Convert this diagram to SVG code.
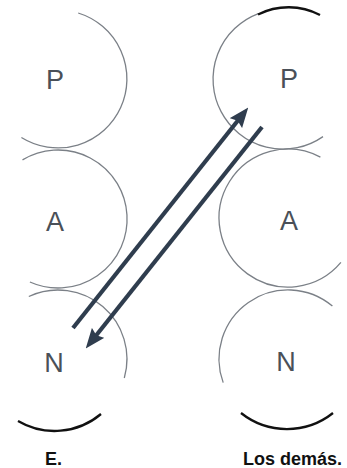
<svg xmlns="http://www.w3.org/2000/svg" width="347" height="468" viewBox="0 0 347 468">
<defs>
<style>
.c{fill:none;stroke:#7b8087;stroke-width:1.3}
.b{fill:none;stroke:#111;stroke-width:2.3}
.l{font-family:"Liberation Sans",Arial,sans-serif;font-size:27px;fill:#4a5058;text-anchor:middle}
.t{font-family:"Liberation Sans",Arial,sans-serif;font-size:18px;font-weight:bold;fill:#111}
.a{fill:none;stroke:#2f3d4e;stroke-width:4.2;marker-end:url(#ah)}
</style>
<marker id="ah" viewBox="0 0 20 16" refX="4" refY="8" markerWidth="20" markerHeight="16" markerUnits="userSpaceOnUse" orient="auto">
<path d="M0,0 L20,8 L0,16 L3,8 z" fill="#2f3d4e"/>
</marker>
</defs>
<rect width="347" height="468" fill="#fff"/>
<g id="E-P"><path class="c" d="M78.2,13 A69,69 0 1 1 21.4,137.5"/><text class="l" x="55" y="89">P</text></g>
<g id="E-A"><path class="c" d="M22.5,159.9 A69,69 0 1 1 29.9,282"/><text class="l" x="55" y="231">A</text></g>
<g id="E-N"><path class="c" d="M28.8,296.5 A69,69 0 0 1 124.3,378"/><text class="l" x="54" y="372">N</text></g>
<g id="E-base"><path class="b" d="M18,421 A72,72 0 0 0 101,414"/><text class="t" x="45" y="465">E.</text></g>
<g id="O-P"><path class="c" d="M258.4,13.6 A70,70 0 1 0 323,136.6"/><path class="b" d="M258,14.5 A68,68 0 0 1 320,15"/><text class="l" x="289" y="88">P</text></g>
<g id="O-A"><path class="c" d="M320.4,157.1 A69,69 0 1 0 340.9,262.4"/><text class="l" x="289" y="230">A</text></g>
<g id="O-N"><path class="c" d="M332.4,306.1 A69,69 0 0 0 223.2,382.6"/><text class="l" x="286" y="371">N</text></g>
<g id="O-base"><path class="b" d="M241,413 A74,74 0 0 0 333,413"/><text class="t" x="243" y="465">Los demás.</text></g>
<g id="connectors">
<path class="a" d="M73,328 L238.3,120"/>
<path class="a" d="M262,127 L95.7,336"/>
</g>
</svg>
